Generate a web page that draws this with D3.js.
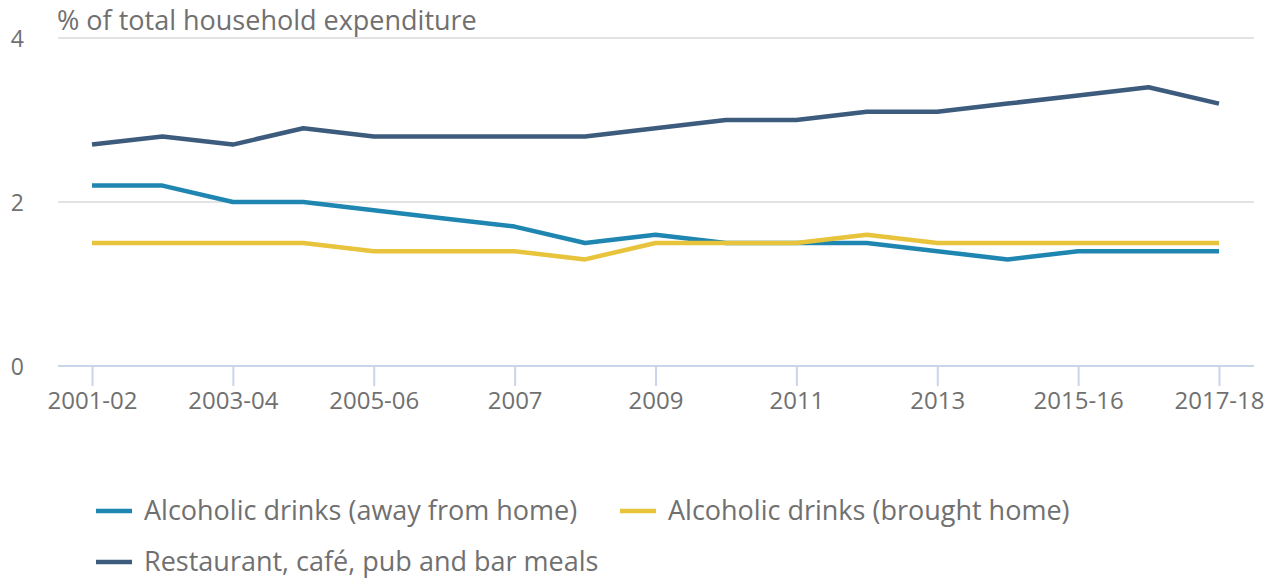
<!DOCTYPE html>
<html>
<head>
<meta charset="utf-8">
<script src="https://cdn.jsdelivr.net/npm/d3@7"></script>
<style>
  body { margin: 0; background: #fff; font-family: "Open Sans", sans-serif; }
  svg text { fill: #707070; }
</style>
</head>
<body>
<div id="chart"></div>
<script>
// data
const years = ["2001-02", "2002-03", "2003-04", "2004-05", "2005-06", "2006", "2007", "2008",
    "2009", "2010", "2011", "2012", "2013", "2014", "2015-16", "2016-17", "2017-18"];
const tickYears = ["2001-02", "2003-04", "2005-06", "2007", "2009", "2011", "2013", "2015-16", "2017-18"];
const awayFromHome = [2.2, 2.2, 2.0, 2.0, 1.9, 1.8, 1.7, 1.5, 1.6, 1.5, 1.5, 1.5, 1.4, 1.3, 1.4, 1.4, 1.4];
const broughtHome = [1.5, 1.5, 1.5, 1.5, 1.4, 1.4, 1.4, 1.3, 1.5, 1.5, 1.5, 1.6, 1.5, 1.5, 1.5, 1.5, 1.5];
const restaurantMeals = [2.7, 2.8, 2.7, 2.9, 2.8, 2.8, 2.8, 2.8, 2.9, 3.0, 3.0, 3.1, 3.1, 3.2, 3.3, 3.4, 3.2];
const yTicks = [0, 2, 4];

const seriesNames = ["Alcoholic drinks (away from home)", "Alcoholic drinks (brought home)", "Restaurant, café, pub and bar meals"];
const seriesColors = ["#1f86b1", "#e8c33c", "#3d5b7d"];

const width = 1279, height = 579;

const svg = d3.select("#chart").append("svg")
    .attr("width", width)
    .attr("height", height);

const x = d3.scalePoint()
    .domain(years)
    .range([92, 1219]);

const y = d3.scaleLinear()
    .domain([0, 4])
    .range([366, 38]);

// gridlines
svg.append("g")
    .selectAll("line")
    .data(yTicks.filter(d => d !== 0))
    .enter()
    .append("line")
    .attr("x1", 58)
    .attr("x2", 1254)
    .attr("y1", d => y(d))
    .attr("y2", d => y(d))
    .attr("stroke", "#e3e3e3")
    .attr("stroke-width", 2);

// y labels
svg.append("g")
    .selectAll("text")
    .data(yTicks)
    .enter()
    .append("text")
    .attr("x", 24)
    .attr("y", d => y(d) + 9)
    .attr("text-anchor", "end")
    .style("font-size", "23px")
    .text(d => d);

// title
svg.append("text")
    .attr("x", 57)
    .attr("y", 30)
    .style("font-size", "27px")
    .text("% of total household expenditure");

// x axis
const xAxis = svg.append("g")
    .attr("transform", `translate(0,${y(0)})`)
    .call(d3.axisBottom(x).tickValues(tickYears).tickSize(20).tickPadding(6));
xAxis.select(".domain").remove();
xAxis.selectAll(".tick line").attr("stroke", "#c9d5ea").attr("stroke-width", 2);
xAxis.selectAll(".tick text")
    .style("font-size", "24px")
    .style("font-family", "Open Sans, sans-serif")
    .attr("fill", "#707070");
xAxis.append("line")
    .attr("x1", 58)
    .attr("x2", 1254)
    .attr("stroke", "#c9d5ea")
    .attr("stroke-width", 2);

// lines
const line = d3.line()
    .x((d, i) => x(years[i]))
    .y(d => y(d));

const allSeries = [awayFromHome, broughtHome, restaurantMeals];

svg.append("g")
    .selectAll("path")
    .data(allSeries)
    .enter()
    .append("path")
    .attr("d", d => line(d))
    .attr("fill", "none")
    .attr("stroke", (d, i) => seriesColors[i])
    .attr("stroke-width", 4.5)
    .attr("stroke-linejoin", "round");

// legend
const legendPos = [[96, 511], [620, 511], [96, 562]];
const legend = svg.append("g")
    .selectAll("g")
    .data(seriesNames)
    .enter()
    .append("g")
    .attr("transform", (d, i) => `translate(${legendPos[i][0]},${legendPos[i][1]})`);

legend.append("line")
    .attr("x1", 0)
    .attr("x2", 36)
    .attr("stroke", (d, i) => seriesColors[i])
    .attr("stroke-width", 4.5);

legend.append("text")
    .attr("x", 48)
    .attr("y", 9)
    .style("font-size", "27px")
    .text(d => d);
</script>
</body>
</html>
